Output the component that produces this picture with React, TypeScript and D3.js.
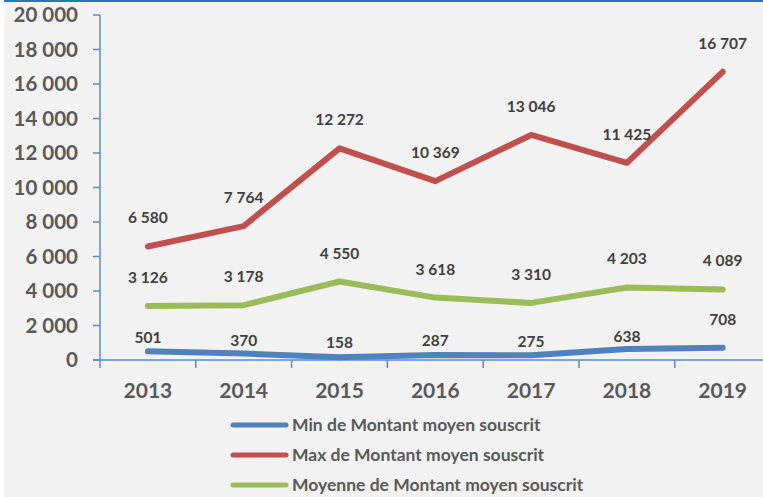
import React from "react";
import * as d3 from "d3";

const years = ["2013", "2014", "2015", "2016", "2017", "2018", "2019"];
const minValues = [501, 370, 158, 287, 275, 638, 708];
const maxValues = [6580, 7764, 12272, 10369, 13046, 11425, 16707];
const meanValues = [3126, 3178, 4550, 3618, 3310, 4203, 4089];
const yTicks = [0, 2000, 4000, 6000, 8000, 10000, 12000, 14000, 16000, 18000, 20000];
const seriesNames = [
  "Min de Montant moyen souscrit",
  "Max de Montant moyen souscrit",
  "Moyenne de Montant moyen souscrit",
];
// manual label lift (px above point) for the Min series
const minLabelLift = [8, 8, 9, 9, 8, 7, 23];

const W = 763;
const H = 497;
const colors = ["#4f81bd", "#c0504d", "#9bbb59"];
const axisColor = "#5b8bd0";
const font = "Lato, 'Open Sans', sans-serif";

const fmt = (v: number) => {
  const s = String(v);
  return s.replace(/\B(?=(\d{3})+(?!\d))/g, " ");
};

export default function App() {
  const x = d3.scaleBand<string>().domain(years).range([100, 100 + 7 * 95.8]);
  const y = d3.scaleLinear().domain([0, 20000]).range([360, 15]);
  const cx = (i: number) => (x(years[i]) as number) + x.bandwidth() / 2;
  const line = d3
    .line<number>()
    .x((_, i) => cx(i))
    .y((d) => y(d));

  const series = [minValues, maxValues, meanValues];
  const lifts = [minLabelLift, years.map(() => 23), years.map(() => 23)];

  return (
    <div style={{ position: "fixed", left: 0, top: 0 }}>
      <svg width={W} height={H} style={{ display: "block" }}>
        <rect x={0} y={0} width={W} height={H} fill="#ffffff" />
        <rect x={4} y={0} width={W - 4} height={H} fill="#f2f2f2" />
        <rect x={4} y={0} width={W - 4} height={2} fill="#1f7ab8" />

        {/* Y axis */}
        <line x1={100} x2={100} y1={y(20000)} y2={y(0)} stroke={axisColor} strokeWidth={1.5} />
        {yTicks.map((t) => (
          <g key={t}>
            <line x1={93} x2={100} y1={y(t)} y2={y(t)} stroke={axisColor} strokeWidth={1.5} />
            <text
              x={78}
              y={y(t)}
              dy="0.36em"
              textAnchor="end"
              fontFamily={font}
              fontWeight="bold"
              fontSize={20.5}
              fill="#595959"
            >
              {fmt(t)}
            </text>
          </g>
        ))}

        {/* X axis */}
        <line x1={93} x2={W} y1={y(0)} y2={y(0)} stroke={axisColor} strokeWidth={1.5} />
        {years.map((yr, i) => (
          <g key={yr}>
            <line
              x1={x(yr) as number}
              x2={x(yr) as number}
              y1={y(0)}
              y2={y(0) + 8}
              stroke={axisColor}
              strokeWidth={1.5}
            />
            <text
              x={cx(i)}
              y={398}
              textAnchor="middle"
              fontFamily={font}
              fontWeight="bold"
              fontSize={21}
              fill="#595959"
            >
              {yr}
            </text>
          </g>
        ))}

        {/* Lines */}
        {series.map((vals, s) => (
          <path
            key={s}
            d={line(vals) as string}
            fill="none"
            stroke={colors[s]}
            strokeWidth={6}
            strokeLinecap="round"
            strokeLinejoin="round"
          />
        ))}

        {/* Labels */}
        {series.map((vals, s) =>
          vals.map((v, i) => (
            <text
              key={`${s}-${i}`}
              x={cx(i)}
              y={y(v) - lifts[s][i]}
              textAnchor="middle"
              fontFamily={font}
              fontWeight="bold"
              fontSize={15.5}
              fill="#404040"
            >
              {fmt(v)}
            </text>
          ))
        )}

        {/* Legend */}
        {seriesNames.map((name, i) => (
          <g key={name} transform={`translate(0, ${425 + i * 30})`}>
            <line x1={233} x2={286} y1={0} y2={0} stroke={colors[i]} strokeWidth={5} strokeLinecap="round" />
            <text
              x={292}
              y={0}
              dy="0.36em"
              fontFamily={font}
              fontWeight="bold"
              fontSize={17.5}
              fill="#595959"
            >
              {name}
            </text>
          </g>
        ))}
      </svg>
    </div>
  );
}
